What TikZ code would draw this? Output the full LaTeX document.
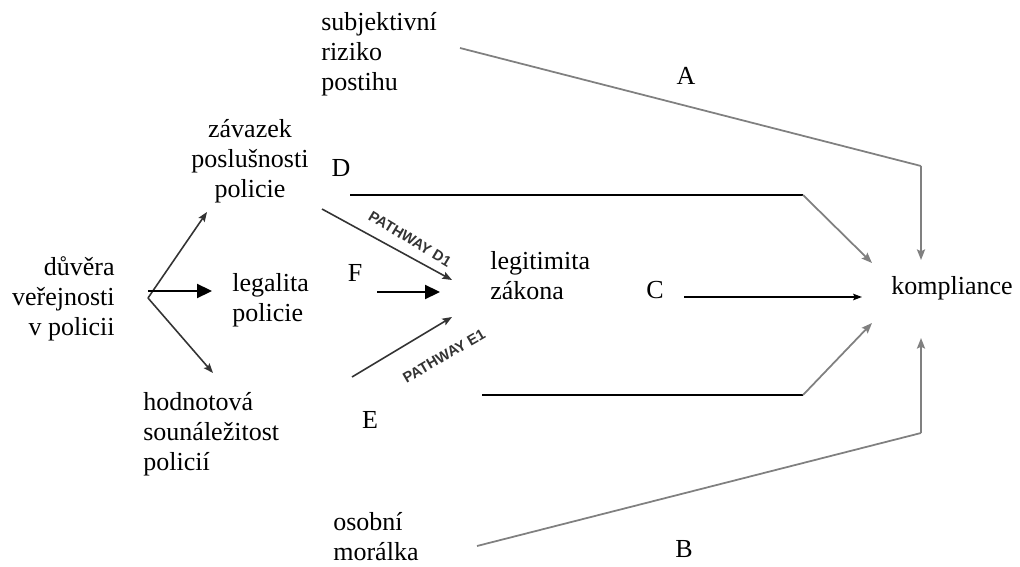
\documentclass[tikz,border=0pt]{standalone}
\usepackage{fontspec}
\setmainfont{Liberation Serif}
\newfontfamily\pathfont{Liberation Sans}
\usetikzlibrary{arrows.meta,positioning}
\definecolor{KompGray}{HTML}{808080}
\definecolor{KompDark}{HTML}{333333}

\begin{document}
\begin{tikzpicture}[x=0.02cm,y=-0.02cm,
    txt/.style={inner sep=0pt,font=\fontsize{14.8}{17.1}\selectfont},
    txtleft/.style={txt,align=left,anchor=west},
    pathtag/.style={inner sep=0pt,text=KompDark,font=\pathfont\bfseries\fontsize{8.4}{10}\selectfont},
    blackline/.style={line width=1.1pt,color=black},
    grayline/.style={line width=1pt,color=KompGray},
    grayarrow/.style={grayline,-{Stealth[length=6pt,width=4.6pt,inset=1pt]}},
    fanarrow/.style={line width=0.9pt,color=KompDark,-{Stealth[length=5.5pt,width=4.2pt,inset=1pt]}},
    bigarrow/.style={line width=1pt,color=black,-{Triangle[length=8.5pt,width=8pt]}},
    smallarrow/.style={line width=1pt,color=black,-{Stealth[length=5pt,width=3.6pt,inset=0.8pt]}}
  ]
    \useasboundingbox (0,0) rectangle (1020,567);

    \node[txtleft] (riziko) at (321,54) {subjektivní\\riziko\\postihu};
    \node[txt] (A) at (686,76) {A};
    \node[txt,align=center] (zavazek) at (250,161) {závazek\\poslušnosti\\policie};
    \node[txt] (D) at (341,168) {D};
    \node[txt,align=right,anchor=east] (duvera) at (115,299) {důvěra\\veřejnosti\\v policii};
    \node[txtleft] (legalita) at (232,300) {legalita\\policie};
    \node[txt] (F) at (355,273) {F};
    \node[txtleft] (legitimita) at (490,276) {legitimita\\zákona};
    \node[txt] (C) at (655,290) {C};
    \node[txtleft] (kompliance) at (891,288) {kompliance};
    \node[txtleft] (hodnotova) at (143,434) {hodnotová\\sounáležitost\\policií};
    \node[txt] (E) at (370,420) {E};
    \node[txtleft] (osobni) at (333,537) {osobní\\morálka};
    \node[txt] (B) at (684,549) {B};

    \coordinate (a1) at (460,48); \coordinate (a2) at (921,166); \coordinate (a3) at (921,260);
    \coordinate (d1) at (350,195); \coordinate (d2) at (803,195); \coordinate (d3) at (872,263);
    \coordinate (c1) at (684,297); \coordinate (c2) at (862,297);
    \coordinate (e1) at (482,395); \coordinate (e2) at (803,395); \coordinate (e3) at (872,323);
    \coordinate (b1) at (477,546); \coordinate (b2) at (921,433); \coordinate (b3) at (921,338);
    \coordinate (fan) at (148,298); \coordinate (fanmid) at (148,291);
    \coordinate (fanup) at (207,212); \coordinate (fanright) at (212,291); \coordinate (fandown) at (213,373);
    \coordinate (pd1) at (322,209); \coordinate (pd2) at (452,280);
    \coordinate (f1) at (377,292); \coordinate (f2) at (440,292);
    \coordinate (pe1) at (352,377); \coordinate (pe2) at (452,317);

    \draw[grayline] (a1) -- (a2); \draw[grayarrow] (a2) -- (a3);
    \draw[blackline] (d1) -- (d2); \draw[grayarrow] (d2) -- (d3);
    \draw[smallarrow] (c1) -- (c2);
    \draw[blackline] (e1) -- (e2); \draw[grayarrow] (e2) -- (e3);
    \draw[grayline] (b1) -- (b2); \draw[grayarrow] (b2) -- (b3);

    \draw[fanarrow] (fan) -- (fanup); \draw[fanarrow] (fan) -- (fandown);
    \draw[bigarrow] (fanmid) -- (fanright);
    \draw[fanarrow] (pd1) -- (pd2); \draw[fanarrow] (pe1) -- (pe2);
    \draw[bigarrow] (f1) -- (f2);

    \node[pathtag,rotate=-31] (tagd) at (410,239) {PATHWAY D1};
    \node[pathtag,rotate=30] (tage) at (444,356) {PATHWAY E1};
  \end{tikzpicture}
\end{document}
